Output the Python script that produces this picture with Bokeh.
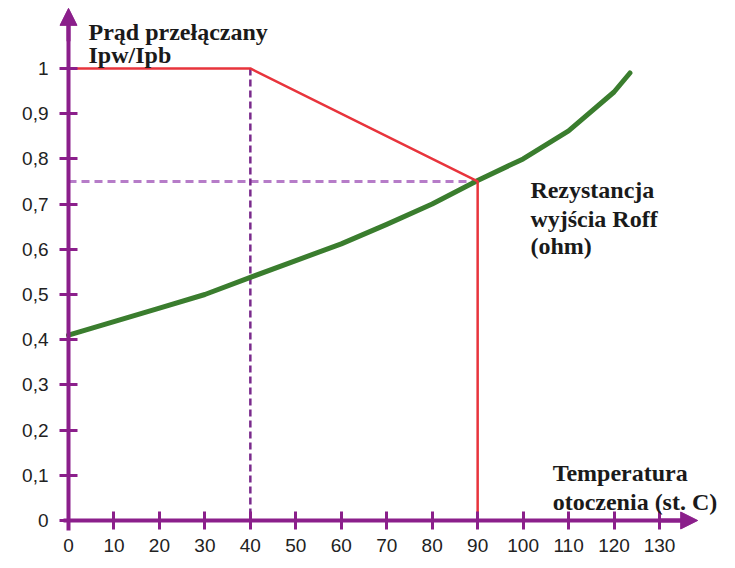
from bokeh.plotting import figure
from bokeh.models import Range1d, FixedTicker, Arrow, NormalHead, Label
from bokeh.embed import file_html
from bokeh.resources import INLINE

# ---- data ----
x_ticks = [0, 10, 20, 30, 40, 50, 60, 70, 80, 90, 100, 110, 120, 130]
y_ticks = [0, 0.1, 0.2, 0.3, 0.4, 0.5, 0.6, 0.7, 0.8, 0.9, 1]
y_tick_labels = ["0", "0,1", "0,2", "0,3", "0,4", "0,5", "0,6", "0,7", "0,8", "0,9", "1"]

current_x = [0, 40, 90, 90]
current_y = [1.0, 1.0, 0.75, 0.0]

roff_x = [0, 10, 20, 30, 40, 50, 60, 70, 80, 90, 100, 110, 120, 123.5]
roff_y = [0.41, 0.44, 0.47, 0.50, 0.538, 0.575, 0.612, 0.655, 0.70, 0.752, 0.80, 0.862, 0.948, 0.99]

guide_vx = [40, 40]
guide_vy = [1.0, 0.0]
guide_hx = [0, 90]
guide_hy = [0.75, 0.75]

purple = "#8B1F8B"

p = figure(width=730, height=566, output_backend="svg", toolbar_location=None,
           x_range=Range1d(-12.76, 143.86), y_range=Range1d(-0.1018, 1.1504),
           min_border_left=10, min_border_right=8, min_border_top=0, min_border_bottom=0)
p.outline_line_color = None
p.xgrid.visible = False
p.ygrid.visible = False

for ax in (p.xaxis[0], p.yaxis[0]):
    ax.fixed_location = 0
    ax.axis_line_color = purple
    ax.axis_line_width = 4
    ax.major_tick_line_color = purple
    ax.major_tick_line_width = 3
    ax.major_tick_in = 9
    ax.major_tick_out = 9
    ax.minor_tick_line_color = None
    ax.major_label_text_font = "Liberation Sans"
    ax.major_label_text_font_size = "19px"
    ax.major_label_text_color = "#222222"

p.xaxis[0].ticker = FixedTicker(ticks=x_ticks)
p.xaxis[0].major_label_standoff = 10
p.xaxis[0].bounds = (-1.1, 137)
p.yaxis[0].ticker = FixedTicker(ticks=y_ticks)
p.yaxis[0].major_label_overrides = {v: s for v, s in zip(y_ticks, y_tick_labels)}
p.yaxis[0].major_label_standoff = 11
p.yaxis[0].major_label_text_align = "center"
p.yaxis[0].bounds = (-0.022, 1.11)

# guides
p.line(guide_hx, guide_hy, line_color="#B67CC8", line_width=3, line_dash="8 5")
p.line(guide_vx, guide_vy, line_color="#7A2A8C", line_width=2.5, line_dash="7 4")

# curves
p.line(roff_x, roff_y, line_color="#3A7D2E", line_width=5, line_cap="round", line_join="round")
p.line(current_x, current_y, line_color="#E8343C", line_width=2.5)

# arrow heads on axes
p.add_layout(Arrow(end=NormalHead(size=17, fill_color=purple, line_color=purple),
                   x_start=0, y_start=1.06, x_end=0, y_end=1.133,
                   line_color=purple, line_width=4))
p.add_layout(Arrow(end=NormalHead(size=17, fill_color=purple, line_color=purple),
                   x_start=130, y_start=0, x_end=138.4, y_end=0,
                   line_color=purple, line_width=4))

title_style = dict(text_font="Liberation Serif", text_font_style="bold",
                   text_font_size="24px", text_color="#1a1a1a", text_baseline="alphabetic")
p.add_layout(Label(x=4.4, y=1.080, text="Prąd przełączany", **title_style))
p.add_layout(Label(x=4.4, y=1.029, text="Ipw/Ipb", **title_style))
p.add_layout(Label(x=101.6, y=0.732, text="Rezystancja", **title_style))
p.add_layout(Label(x=101.6, y=0.668, text="wyjścia Roff", **title_style))
p.add_layout(Label(x=101.6, y=0.608, text="(ohm)", **title_style))
p.add_layout(Label(x=106.5, y=0.104, text="Temperatura", **title_style))
p.add_layout(Label(x=106.5, y=0.040, text="otoczenia (st. C)", **title_style))

open("out.html", "w").write(file_html(p, INLINE))
